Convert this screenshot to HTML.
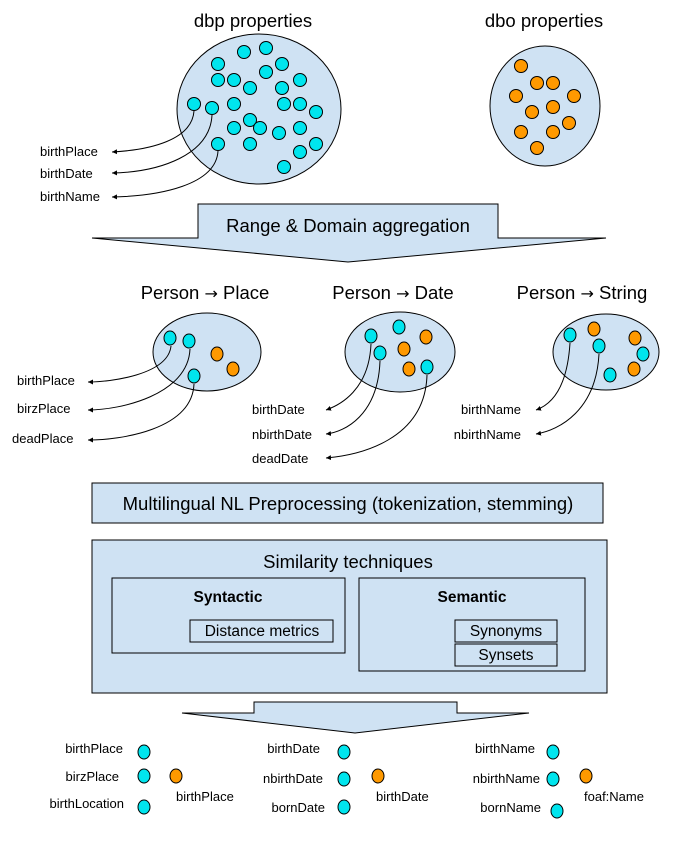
<!DOCTYPE html>
<html><head><meta charset="utf-8"><style>body{margin:0;background:#fff}svg{display:block}text{font-family:"Liberation Sans",Arial,sans-serif;fill:#000}</style></head>
<body>
<svg width="698" height="843" viewBox="0 0 698 843" xmlns="http://www.w3.org/2000/svg">
<defs><marker id="a" markerWidth="6" markerHeight="6" refX="5" refY="3" orient="auto"><path d="M0,0.5 L5,3 L0,5.5z" fill="#000"/></marker></defs>
<g stroke="#000" stroke-width="1">
<ellipse cx="259" cy="109" rx="82" ry="75" fill="#cfe2f3"/>
<ellipse cx="545" cy="106" rx="55" ry="60" fill="#cfe2f3"/>
<g fill="#00e5ee">
<circle cx="244" cy="52" r="6.5"/><circle cx="266" cy="48" r="6.5"/><circle cx="218" cy="64" r="6.5"/><circle cx="282" cy="64" r="6.5"/><circle cx="266" cy="72" r="6.5"/><circle cx="218" cy="80" r="6.5"/><circle cx="234" cy="80" r="6.5"/><circle cx="250" cy="88" r="6.5"/><circle cx="282" cy="88" r="6.5"/><circle cx="300" cy="80" r="6.5"/><circle cx="194" cy="104" r="6.5"/><circle cx="212" cy="108" r="6.5"/><circle cx="234" cy="104" r="6.5"/><circle cx="284" cy="104" r="6.5"/><circle cx="300" cy="104" r="6.5"/><circle cx="316" cy="112" r="6.5"/><circle cx="250" cy="120" r="6.5"/><circle cx="260" cy="128" r="6.5"/><circle cx="234" cy="128" r="6.5"/><circle cx="279" cy="133" r="6.5"/><circle cx="300" cy="128" r="6.5"/><circle cx="218" cy="144" r="6.5"/><circle cx="250" cy="144" r="6.5"/><circle cx="300" cy="152" r="6.5"/><circle cx="316" cy="144" r="6.5"/><circle cx="284" cy="167" r="6.5"/>
</g>
<g fill="#ff9900">
<circle cx="521" cy="66" r="6.5"/><circle cx="537" cy="83" r="6.5"/><circle cx="553" cy="83" r="6.5"/><circle cx="516" cy="96" r="6.5"/><circle cx="574" cy="96" r="6.5"/><circle cx="532" cy="112" r="6.5"/><circle cx="553" cy="107" r="6.5"/><circle cx="569" cy="123" r="6.5"/><circle cx="521" cy="132" r="6.5"/><circle cx="553" cy="132" r="6.5"/><circle cx="537" cy="148" r="6.5"/>
</g>
<g fill="none" marker-end="url(#a)">
<path d="M194,111 C192,140 150,150 112,152"/>
<path d="M212,115 C210,155 160,172 112,173"/>
<path d="M218,151 C216,185 160,196 112,197"/>
</g>
<path d="M198,204 H498 V238 H606 L348,262 L92,238 H198 Z" fill="#cfe2f3"/>
<ellipse cx="207" cy="352" rx="54" ry="39" fill="#cfe2f3"/>
<ellipse cx="400" cy="352" rx="55" ry="40" fill="#cfe2f3"/>
<ellipse cx="606" cy="352" rx="53" ry="38" fill="#cfe2f3"/>
<g fill="#00e5ee">
<ellipse cx="170" cy="338" rx="6" ry="7"/><ellipse cx="189" cy="341" rx="6" ry="7"/><ellipse cx="194" cy="376" rx="6" ry="7"/>
<ellipse cx="371" cy="336" rx="6" ry="7"/><ellipse cx="399" cy="327" rx="6" ry="7"/><ellipse cx="380" cy="353" rx="6" ry="7"/><ellipse cx="427" cy="367" rx="6" ry="7"/>
<ellipse cx="570" cy="335" rx="6" ry="7"/><ellipse cx="599" cy="346" rx="6" ry="7"/><ellipse cx="643" cy="354" rx="6" ry="7"/><ellipse cx="610" cy="375" rx="6" ry="7"/>
</g>
<g fill="#ff9900">
<ellipse cx="217" cy="354" rx="6" ry="7"/><ellipse cx="233" cy="369" rx="6" ry="7"/>
<ellipse cx="426" cy="337" rx="6" ry="7"/><ellipse cx="404" cy="349" rx="6" ry="7"/><ellipse cx="409" cy="369" rx="6" ry="7"/>
<ellipse cx="594" cy="329" rx="6" ry="7"/><ellipse cx="635" cy="338" rx="6" ry="7"/><ellipse cx="634" cy="369" rx="6" ry="7"/>
</g>
<g fill="none" marker-end="url(#a)">
<path d="M171,346 C168,375 110,382 88,382"/>
<path d="M190,349 C188,395 120,410 88,410"/>
<path d="M194,384 C192,430 120,440 88,440"/>
<path d="M371,344 C369,390 340,405 326,410"/>
<path d="M380,361 C378,415 345,432 326,434"/>
<path d="M427,375 C425,440 360,455 326,458"/>
<path d="M570,343 C567,390 550,405 536,410"/>
<path d="M599,354 C596,410 560,430 536,434"/>
</g>
<rect x="92" y="483" width="511" height="40" fill="#cfe2f3"/>
<rect x="92" y="540" width="515" height="153" fill="#cfe2f3"/>
<rect x="112" y="578" width="233" height="75" fill="none"/>
<rect x="190" y="620" width="143" height="22" fill="none"/>
<rect x="359" y="578" width="226" height="93" fill="none"/>
<rect x="455" y="620" width="102" height="22" fill="none"/>
<rect x="455" y="644" width="102" height="22" fill="none"/>
<path d="M254,702 H457 V713 H529 L355,733 L182,713 H254 Z" fill="#cfe2f3"/>
<g fill="#00e5ee">
<ellipse cx="144" cy="752" rx="6" ry="7"/><ellipse cx="144" cy="776" rx="6" ry="7"/><ellipse cx="144" cy="807" rx="6" ry="7"/>
<ellipse cx="344" cy="752" rx="6" ry="7"/><ellipse cx="344" cy="779" rx="6" ry="7"/><ellipse cx="344" cy="807" rx="6" ry="7"/>
<ellipse cx="553" cy="752" rx="6" ry="7"/><ellipse cx="553" cy="779" rx="6" ry="7"/><ellipse cx="557" cy="811" rx="6" ry="7"/>
</g>
<g fill="#ff9900">
<ellipse cx="176" cy="776" rx="6" ry="7"/><ellipse cx="378" cy="776" rx="6" ry="7"/><ellipse cx="586" cy="776" rx="6" ry="7"/>
</g>
</g>
<g font-size="18.5" text-anchor="middle">
<text x="253" y="27">dbp properties</text>
<text x="544" y="27">dbo properties</text>
<text x="205" y="299">Person <tspan font-family="DejaVu Sans" font-size="16">→</tspan> Place</text>
<text x="393" y="299">Person <tspan font-family="DejaVu Sans" font-size="16">→</tspan> Date</text>
<text x="582" y="299">Person <tspan font-family="DejaVu Sans" font-size="16">→</tspan> String</text>
<text x="348" y="568">Similarity techniques</text>
<text x="348" y="232">Range &amp; Domain aggregation</text>
<text x="348" y="510">Multilingual NL Preprocessing (tokenization, stemming)</text>
</g>
<g font-size="15.5" text-anchor="middle">
<text x="228" y="602" font-weight="bold">Syntactic</text>
<text x="472" y="602" font-weight="bold">Semantic</text>
<text x="262" y="636">Distance metrics</text>
<text x="506" y="636">Synonyms</text>
<text x="506" y="660">Synsets</text>
</g>
<g font-size="13">
<text x="40" y="156">birthPlace</text><text x="40" y="178">birthDate</text><text x="40" y="201">birthName</text>
<text x="17" y="385">birthPlace</text><text x="17" y="413">birzPlace</text><text x="12" y="443">deadPlace</text>
<text x="252" y="414">birthDate</text><text x="252" y="439">nbirthDate</text><text x="252" y="463">deadDate</text>
<text x="176" y="801">birthPlace</text><text x="376" y="801">birthDate</text><text x="584" y="801">foaf:Name</text>
</g>
<g font-size="13" text-anchor="end">
<text x="521" y="414">birthName</text><text x="521" y="439">nbirthName</text>
<text x="123" y="753">birthPlace</text><text x="119" y="781">birzPlace</text><text x="124" y="808">birthLocation</text>
<text x="320" y="753">birthDate</text><text x="323" y="783">nbirthDate</text><text x="325" y="812">bornDate</text>
<text x="535" y="753">birthName</text><text x="540" y="783">nbirthName</text><text x="541" y="812">bornName</text>
</g>
</svg>
</body></html>
